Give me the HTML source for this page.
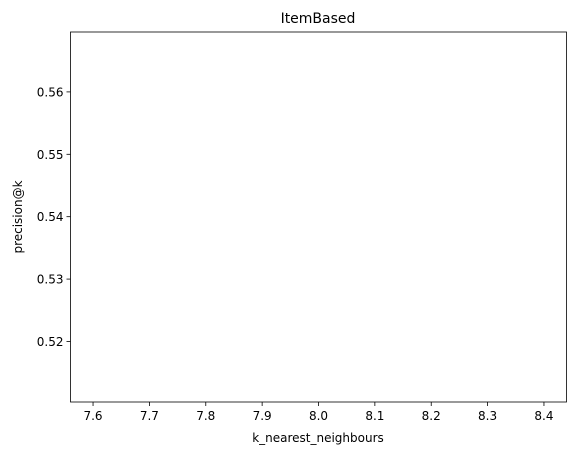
<!DOCTYPE html>
<html><head><meta charset="utf-8"><style>
body{margin:0;background:#fff;}
svg text{font-family:"DejaVu Sans","Liberation Sans",sans-serif;fill:#000;}
</style></head><body>
<svg width="576" height="455" xmlns="http://www.w3.org/2000/svg">
<rect width="576" height="455" fill="#fff"/>
<g id="plot"></g>
<text x="318" y="23" font-size="14" text-anchor="middle">ItemBased</text>
<text x="318" y="442" font-size="12" text-anchor="middle">k_nearest_neighbours</text>
<text x="0" y="0" font-size="12" text-anchor="middle" transform="translate(22,217) rotate(-90)">precision@k</text>
</svg>
<script>
const xTicks = [7.6, 7.7, 7.8, 7.9, 8.0, 8.1, 8.2, 8.3, 8.4];
const yTicks = [0.52, 0.53, 0.54, 0.55, 0.56];
const xValues = [8];
const yValues = [0.54];
const L=70.5,R=566.5,T=32,B=402;
const xMin=7.56,xMax=8.44,yMin=0.5103,yMax=0.5696;
const xs=v=>L+(v-xMin)/(xMax-xMin)*(R-L);
const ys=v=>B-(v-yMin)/(yMax-yMin)*(B-T);
const NS='http://www.w3.org/2000/svg';
const g=document.getElementById('plot');
function mk(t,a){const e=document.createElementNS(NS,t);for(const k in a)e.setAttribute(k,a[k]);g.appendChild(e);return e;}
xTicks.forEach(v=>{
  const x=xs(v);
  const l=mk('line',{x1:x,x2:x,y1:B,y2:B+4,stroke:'#000','stroke-width':0.8});
  
  
  const t=mk('text',{x:x,y:B+18,'font-size':12,'text-anchor':'middle'});
  t.textContent=v.toFixed(1);
  
  
});
yTicks.forEach(v=>{
  const y=ys(v);
  const l=mk('line',{x1:L-4,x2:L,y1:y,y2:y,stroke:'#000','stroke-width':0.8});
  
  
  const t=mk('text',{x:L-7,y:y+4.5,'font-size':12,'text-anchor':'end'});
  t.textContent=v.toFixed(2);
  
  
});
const pts=xValues.map((x,i)=>xs(x)+','+ys(yValues[i])).join(' ');
const line=mk('polyline',{points:pts,fill:'none',stroke:'#1f77b4','stroke-width':1.5});


const f=mk('rect',{x:L,y:T,width:R-L,height:B-T,fill:'none',stroke:'#000','stroke-width':0.8});


</script>
</body></html>
